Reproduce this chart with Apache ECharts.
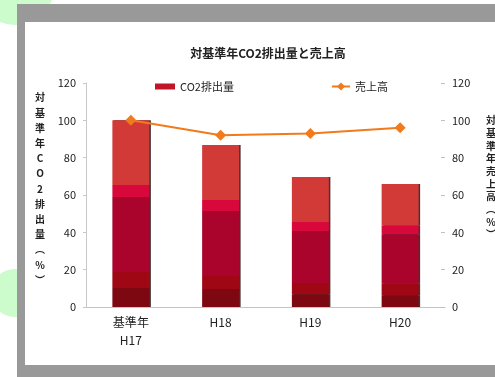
<!DOCTYPE html>
<html>
<head>
<meta charset="utf-8">
<script src="https://cdn.jsdelivr.net/npm/echarts@6/dist/echarts.min.js"></script>
<style>
  html, body { margin: 0; padding: 0; background: #ffffff; }
  #chart { width: 495px; height: 377px; }
</style>
</head>
<body>
<div id="chart"></div>
<script>
// Fiscal years
const categories = ['基準年\nH17', 'H18', 'H19', 'H20'];

// CO2 emissions vs. base year (%), stacked by component, bottom to top
const co2Part1 = [10.2, 9.6, 6.8, 6.3];
const co2Part2 = [8.5, 7.0, 6.1, 6.2];
const co2Part3 = [40.2, 34.8, 27.8, 26.5];
const co2Part4 = [6.4, 5.9, 4.8, 4.7];
const co2Part5 = [34.7, 29.5, 24.1, 22.2];

// Sales vs. base year (%)
const sales = [100, 92, 93, 96];

// Axis ticks (both axes share the same scale)
const yMin = 0, yMax = 120, yStep = 20;

const leftAxisName = ['対', '基', '準', '年', 'C', 'O', '2', '排', '出', '量', '︵', '%', '︶'];
const rightAxisName = ['対', '基', '準', '年', '売', '上', '高', '︵', '%', '︶'];

const FONT = '"Noto Sans CJK JP", "Liberation Sans", sans-serif';
const segColors = ['#7e0812', '#a00714', '#ab042c', '#d8083c', '#d23a38'];
const segData = [co2Part1, co2Part2, co2Part3, co2Part4, co2Part5];
const segNames = ['CO2排出量', '排出量B', '排出量C', '排出量D', '排出量E'];

const chart = echarts.init(document.getElementById('chart'), null, { renderer: 'canvas' });

const barSeries = segData.map((d, i) => ({
  name: segNames[i],
  type: 'bar',
  stack: 'co2',
  yAxisIndex: 0,
  barWidth: 37,
  data: d,
  itemStyle: {
    color: segColors[i],
    shadowColor: 'rgba(20,0,0,0.8)',
    shadowOffsetX: 1.5,
    shadowOffsetY: 0,
    shadowBlur: 0
  },
  emphasis: { disabled: true },
  z: 2
}));

function verticalText(chars, x, y, lh) {
  return {
    type: 'text',
    x: x,
    y: y,
    z: 100,
    style: {
      text: chars.join('\n'),
      font: 'bold 10px ' + FONT,
      fill: '#222',
      align: 'center',
      verticalAlign: 'top',
      lineHeight: lh
    }
  };
}

const option = {
  backgroundColor: '#ffffff',
  animation: false,
  title: {
    text: '対基準年CO2排出量と売上高',
    left: 263,
    textAlign: 'center',
    top: 42,
    textStyle: { fontFamily: FONT, fontSize: 12, fontWeight: 'bold', color: '#222' }
  },
  legend: [
    {
      data: [{ name: 'CO2排出量', icon: 'rect', itemStyle: { color: '#c01628' } }],
      left: 150,
      top: 76,
      itemWidth: 20,
      itemHeight: 6,
      itemGap: 5,
      textStyle: { fontFamily: FONT, fontSize: 11, color: '#222' },
      selectedMode: false
    },
    {
      data: ['売上高'],
      left: 326,
      top: 76,
      itemWidth: 18,
      itemHeight: 10,
      textStyle: { fontFamily: FONT, fontSize: 11, color: '#222' },
      selectedMode: false
    }
  ],
  grid: { left: 86, right: 50, top: 83, bottom: 70, containLabel: false },
  xAxis: {
    type: 'category',
    data: categories,
    axisLine: { lineStyle: { color: '#c4c4c4', width: 1 } },
    axisTick: { show: false },
    axisLabel: {
      fontFamily: FONT, fontSize: 12, color: '#222', margin: 6, lineHeight: 18,
      interval: 0
    }
  },
  yAxis: [
    {
      type: 'value',
      min: yMin, max: yMax, interval: yStep,
      position: 'left',
      axisLine: { show: true, lineStyle: { color: '#c8c8c8' } },
      axisTick: { show: true, length: 3, lineStyle: { color: '#c8c8c8' } },
      axisLabel: { fontFamily: FONT, fontSize: 11, color: '#222', margin: 10 },
      splitLine: { show: false }
    },
    {
      type: 'value',
      min: yMin, max: yMax, interval: yStep,
      position: 'right',
      axisLine: { show: false },
      axisTick: { show: true, inside: true, length: 4, lineStyle: { color: '#c0c0c0' } },
      axisLabel: { fontFamily: FONT, fontSize: 11, color: '#222', margin: 7 },
      splitLine: { show: false }
    }
  ],
  graphic: [
    { type: 'circle', shape: { cx: 15, cy: -15, r: 40 }, style: { fill: '#ccfbcc' }, z: -30 },
    { type: 'circle', shape: { cx: 15, cy: 293, r: 24 }, style: { fill: '#ccfbcc' }, z: -30 },
    { type: 'rect', shape: { x: 17, y: 4, width: 478, height: 373 }, style: { fill: '#999999' }, z: -20 },
    { type: 'rect', shape: { x: 25, y: 22, width: 470, height: 343 }, style: { fill: '#ffffff' }, z: -10 },
    verticalText(leftAxisName, 40, 90, 15.2),
    verticalText(rightAxisName, 491, 114, 12.7)
  ],
  series: barSeries.concat([
    {
      name: '売上高',
      type: 'line',
      yAxisIndex: 1,
      data: sales,
      symbol: 'diamond',
      symbolSize: 11,
      lineStyle: { color: '#f07a1c', width: 2 },
      itemStyle: { color: '#f07a1c' },
      emphasis: { disabled: true },
      z: 5
    }
  ])
};

chart.setOption(option);
</script>
</body>
</html>
